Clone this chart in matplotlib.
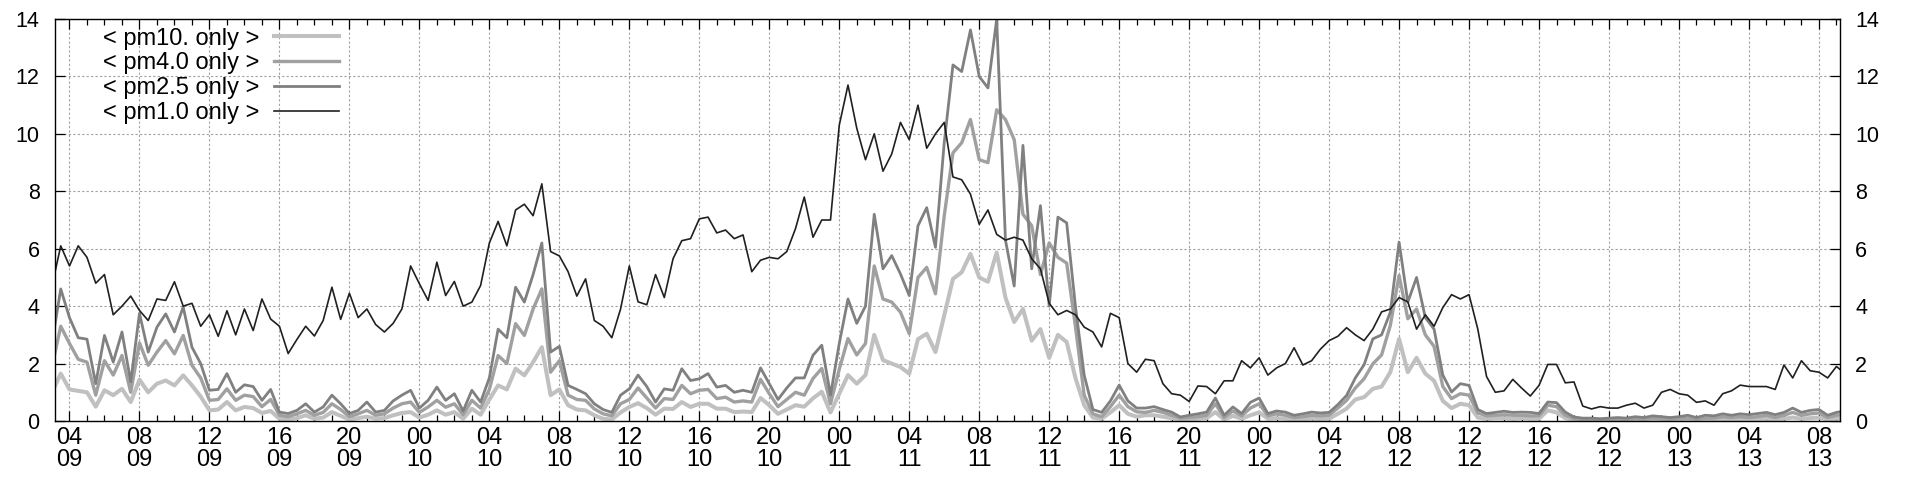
import numpy as np
import pandas as pd
import matplotlib
matplotlib.use('Agg')
import matplotlib.pyplot as plt
import matplotlib.dates as mdates

plt.rcParams['font.family'] = ['Liberation Sans', 'DejaVu Sans']

# half-hourly readings, 09 03:00 .. 13 09:30
start = '2000-01-09 03:00'

# < pm1.0 only >
pm1_d09 = [4.7, 6.1, 5.4, 6.1, 5.7, 4.8, 5.1, 3.7, 4.0, 4.35, 3.85, 3.5, 4.25, 4.2,
           4.85, 4.0, 4.1, 3.3, 3.7, 2.95, 3.84, 3.0, 3.9, 3.15, 4.25, 3.55, 3.3, 2.35,
           2.84, 3.3, 2.96, 3.5, 4.66, 3.54, 4.45, 3.6, 3.9, 3.36, 3.1, 3.4, 3.9, 5.4]
pm1_d10 = [4.78, 4.2, 5.53, 4.37, 4.86, 4.0, 4.14, 4.72, 6.2, 6.95, 6.1, 7.35, 7.55, 7.15,
           8.26, 5.9, 5.75, 5.2, 4.35, 4.95, 3.5, 3.3, 2.9, 3.9, 5.4, 4.15, 4.05, 5.1,
           4.3, 5.65, 6.28, 6.35, 7.04, 7.1, 6.55, 6.65, 6.35, 6.48, 5.2, 5.6, 5.7, 5.65,
           5.9, 6.7, 7.8, 6.4, 7.0, 7.0]
pm1_d11 = [10.3, 11.7, 10.2, 9.1, 10.0, 8.7, 9.3, 10.4, 9.8, 11.0, 9.5, 10.0, 10.4, 8.5,
           8.4, 7.9, 6.85, 7.35, 6.5, 6.3, 6.4, 6.3, 5.65, 5.3, 4.1, 3.7, 3.85, 3.7,
           3.27, 3.1, 2.58, 3.75, 3.6, 2.0, 1.7, 2.15, 2.1, 1.3, 0.95, 0.9, 0.68, 1.22,
           1.2, 0.95, 1.4, 1.4, 2.1, 1.85]
pm1_d12 = [2.2, 1.6, 1.85, 2.0, 2.55, 1.95, 2.1, 2.5, 2.8, 2.95, 3.25, 3.0, 2.8, 3.2,
           3.8, 3.9, 4.3, 4.15, 3.2, 3.7, 3.3, 3.95, 4.4, 4.25, 4.4, 3.2, 1.55, 1.0,
           1.05, 1.45, 1.15, 0.87, 1.24, 1.97, 1.97, 1.33, 1.36, 0.52, 0.42, 0.5, 0.45, 0.45,
           0.55, 0.62, 0.45, 0.55, 1.0, 1.1]
pm1_d13 = [0.95, 0.9, 0.65, 0.7, 0.55, 0.95, 1.05, 1.25, 1.2, 1.2, 1.2, 1.1, 1.95, 1.5,
           2.1, 1.75, 1.7, 1.5, 1.9, 1.65]

# < pm2.5 only >
pm25_d09 = [2.7, 4.6, 3.6, 2.9, 2.85, 1.3, 2.98, 2.05, 3.1, 1.36, 3.75, 2.4, 3.27, 3.73,
            3.1, 3.97, 2.57, 2.0, 1.07, 1.1, 1.65, 1.0, 1.26, 1.2, 0.72, 1.1, 0.31, 0.26,
            0.37, 0.6, 0.31, 0.49, 0.9, 0.6, 0.26, 0.37, 0.66, 0.31, 0.37, 0.7, 0.9, 1.07]
pm25_d10 = [0.45, 0.72, 1.18, 0.72, 0.95, 0.35, 1.07, 0.66, 1.5, 3.2, 2.9, 4.66, 4.14, 5.1,
            6.2, 2.4, 2.6, 1.24, 1.1, 0.95, 0.6, 0.4, 0.3, 0.9, 1.12, 1.6, 1.2, 0.66,
            1.12, 1.07, 1.82, 1.41, 1.47, 1.65, 1.18, 1.24, 1.0, 1.07, 1.0, 1.85, 1.3, 0.75,
            1.15, 1.5, 1.5, 2.29, 2.64, 0.9]
pm25_d11 = [2.7, 4.25, 3.4, 4.0, 7.2, 5.3, 5.76, 5.12, 4.37, 6.8, 7.43, 6.05, 9.69, 12.4,
            12.17, 13.62, 12.0, 11.6, 14.0, 6.3, 4.7, 9.6, 5.3, 7.5, 4.0, 7.1, 6.9, 4.0,
            1.6, 0.4, 0.3, 0.7, 1.25, 0.7, 0.45, 0.45, 0.5, 0.4, 0.31, 0.14, 0.2, 0.25,
            0.31, 0.8, 0.2, 0.49, 0.26, 0.65]
pm25_d12 = [0.8, 0.26, 0.35, 0.31, 0.2, 0.25, 0.31, 0.28, 0.3, 0.57, 0.89, 1.5, 1.96, 2.86,
            3.0, 3.79, 6.23, 4.14, 5.0, 3.6, 3.2, 1.6, 1.01, 1.3, 1.24, 0.4, 0.26, 0.3,
            0.34, 0.3, 0.31, 0.3, 0.26, 0.66, 0.64, 0.31, 0.14, 0.1, 0.1, 0.08, 0.1, 0.12,
            0.1, 0.15, 0.12, 0.18, 0.15, 0.12]
pm25_d13 = [0.15, 0.2, 0.12, 0.2, 0.18, 0.25, 0.2, 0.25, 0.22, 0.26, 0.3, 0.22, 0.3, 0.45,
            0.3, 0.37, 0.4, 0.2, 0.3, 0.35]

# < pm4.0 only >
pm4_d09 = [1.9, 3.3, 2.7, 2.15, 2.05, 0.9, 2.1, 1.6, 2.28, 1.0, 2.72, 1.94, 2.4, 2.8,
           2.34, 2.98, 1.94, 1.5, 0.72, 0.75, 1.12, 0.72, 0.9, 0.85, 0.5, 0.75, 0.2, 0.15,
           0.25, 0.37, 0.2, 0.3, 0.6, 0.4, 0.15, 0.25, 0.37, 0.2, 0.25, 0.45, 0.6, 0.66]
pm4_d10 = [0.3, 0.49, 0.72, 0.48, 0.6, 0.22, 0.72, 0.45, 1.1, 2.28, 2.0, 3.39, 2.98, 3.9,
           4.6, 1.7, 2.1, 0.9, 0.75, 0.72, 0.42, 0.25, 0.18, 0.6, 0.75, 1.15, 0.8, 0.45,
           0.78, 0.75, 1.24, 0.95, 1.07, 1.1, 0.78, 0.83, 0.66, 0.7, 0.66, 1.45, 0.95, 0.5,
           0.75, 1.0, 0.9, 1.48, 1.83, 0.6]
pm4_d11 = [1.8, 2.87, 2.3, 2.7, 5.4, 4.25, 4.14, 3.79, 3.04, 5.0, 5.35, 4.43, 7.14, 9.34,
           9.69, 10.5, 9.1, 9.0, 10.84, 10.5, 9.8, 7.2, 6.8, 5.1, 6.2, 5.7, 5.5, 3.3,
           0.9, 0.25, 0.15, 0.5, 0.9, 0.5, 0.32, 0.3, 0.37, 0.3, 0.2, 0.1, 0.12, 0.15,
           0.2, 0.6, 0.12, 0.35, 0.18, 0.45]
pm4_d12 = [0.6, 0.18, 0.25, 0.2, 0.12, 0.15, 0.2, 0.18, 0.2, 0.45, 0.72, 1.15, 1.47, 1.99,
           2.3, 3.33, 5.07, 3.56, 3.9, 3.0, 2.6, 1.2, 0.78, 0.95, 0.9, 0.28, 0.18, 0.2,
           0.22, 0.2, 0.2, 0.18, 0.18, 0.55, 0.5, 0.2, 0.08, 0.05, 0.05, 0.04, 0.05, 0.06,
           0.05, 0.08, 0.06, 0.1, 0.08, 0.06]
pm4_d13 = [0.08, 0.1, 0.06, 0.1, 0.1, 0.15, 0.12, 0.15, 0.12, 0.15, 0.2, 0.12, 0.2, 0.3,
           0.2, 0.25, 0.28, 0.12, 0.2, 0.22]

# < pm10. only >
pm10_d09 = [1.0, 1.65, 1.1, 1.05, 1.0, 0.5, 1.07, 0.9, 1.12, 0.66, 1.44, 1.0, 1.3, 1.41,
            1.24, 1.59, 1.24, 0.85, 0.37, 0.4, 0.66, 0.37, 0.49, 0.45, 0.28, 0.35, 0.08, 0.05,
            0.1, 0.2, 0.08, 0.12, 0.31, 0.18, 0.05, 0.1, 0.15, 0.08, 0.1, 0.2, 0.28, 0.31]
pm10_d10 = [0.12, 0.22, 0.37, 0.22, 0.31, 0.08, 0.43, 0.22, 0.75, 1.24, 1.1, 1.82, 1.59, 2.05,
            2.57, 0.9, 1.1, 0.55, 0.4, 0.37, 0.2, 0.08, 0.05, 0.3, 0.49, 0.62, 0.45, 0.22,
            0.43, 0.42, 0.66, 0.49, 0.6, 0.6, 0.43, 0.43, 0.31, 0.33, 0.31, 0.8, 0.55, 0.25,
            0.4, 0.55, 0.5, 0.79, 1.02, 0.3]
pm10_d11 = [0.95, 1.6, 1.3, 1.6, 3.0, 2.12, 2.0, 1.88, 1.65, 2.85, 3.04, 2.4, 3.68, 4.95,
            5.18, 5.82, 5.0, 4.85, 5.87, 4.3, 3.45, 3.9, 2.8, 3.2, 2.2, 3.0, 2.75, 1.5,
            0.55, 0.12, 0.08, 0.3, 0.55, 0.25, 0.15, 0.2, 0.2, 0.15, 0.1, 0.05, 0.05, 0.08,
            0.1, 0.31, 0.05, 0.18, 0.08, 0.2]
pm10_d12 = [0.3, 0.08, 0.1, 0.08, 0.05, 0.06, 0.08, 0.07, 0.08, 0.25, 0.43, 0.75, 0.83, 1.12,
            1.2, 1.7, 2.86, 1.7, 2.2, 1.65, 1.4, 0.7, 0.45, 0.6, 0.55, 0.12, 0.08, 0.1,
            0.1, 0.08, 0.1, 0.08, 0.08, 0.37, 0.3, 0.1, 0.03, 0.02, 0.02, 0.01, 0.02, 0.02,
            0.02, 0.03, 0.02, 0.04, 0.03, 0.02]
pm10_d13 = [0.03, 0.04, 0.02, 0.04, 0.04, 0.06, 0.05, 0.06, 0.05, 0.06, 0.08, 0.05, 0.08, 0.12,
            0.08, 0.1, 0.12, 0.05, 0.08, 0.1]

pm1 = pm1_d09 + pm1_d10 + pm1_d11 + pm1_d12 + pm1_d13
pm25 = pm25_d09 + pm25_d10 + pm25_d11 + pm25_d12 + pm25_d13
pm4 = pm4_d09 + pm4_d10 + pm4_d11 + pm4_d12 + pm4_d13
pm10 = pm10_d09 + pm10_d10 + pm10_d11 + pm10_d12 + pm10_d13

t = pd.date_range(start, periods=len(pm1), freq='30min')

fig = plt.figure(figsize=(19.2, 4.8), dpi=100)
ax = fig.add_axes([0.0286, 0.1229, 0.9297, 0.8375])

ax.plot(t[:len(pm10)], pm10, color='#c0c0c0', lw=2.9, label='< pm10. only >')
ax.plot(t[:len(pm4)], pm4, color='#a0a0a0', lw=2.4, label='< pm4.0 only >')
ax.plot(t[:len(pm25)], pm25, color='#808080', lw=2.0, label='< pm2.5 only >')
ax.plot(t[:len(pm1)], pm1, color='#202020', lw=1.2, label='< pm1.0 only >')

ax.set_xlim(pd.Timestamp('2000-01-09 03:10'), pd.Timestamp('2000-01-13 09:12'))
ax.set_ylim(0, 14)
ax.set_yticks(np.arange(0, 15, 2))

ax.xaxis.set_major_locator(mdates.HourLocator(byhour=range(0, 24, 4)))
ax.xaxis.set_minor_locator(mdates.HourLocator())
ax.xaxis.set_major_formatter(mdates.DateFormatter('%H\n%d'))

ax.tick_params(axis='both', which='major', direction='in', length=7, width=0.9,
               top=True, right=True, labelright=True, labelsize=15.5)
ax.tick_params(axis='x', which='minor', direction='in', length=4, width=0.9, top=True)
ax.tick_params(axis='y', which='major', pad=11)
ax.tick_params(axis='x', which='major', pad=4)
for lab in ax.get_xticklabels():
    lab.set_fontsize(17)
    lab.set_linespacing(1.05)

ax.grid(True, which='major', color='#a0a0a0', linestyle=(0, (2, 2)), linewidth=0.8)
for s in ax.spines.values():
    s.set_linewidth(1.0)

ax.legend(loc='upper right', bbox_to_anchor=(0.166, 1.008), frameon=False, markerfirst=False,
          fontsize=17, handlelength=2.75, handletextpad=0.65, labelspacing=0.12, borderpad=0.0)

fig.savefig('out.png', dpi=100)
